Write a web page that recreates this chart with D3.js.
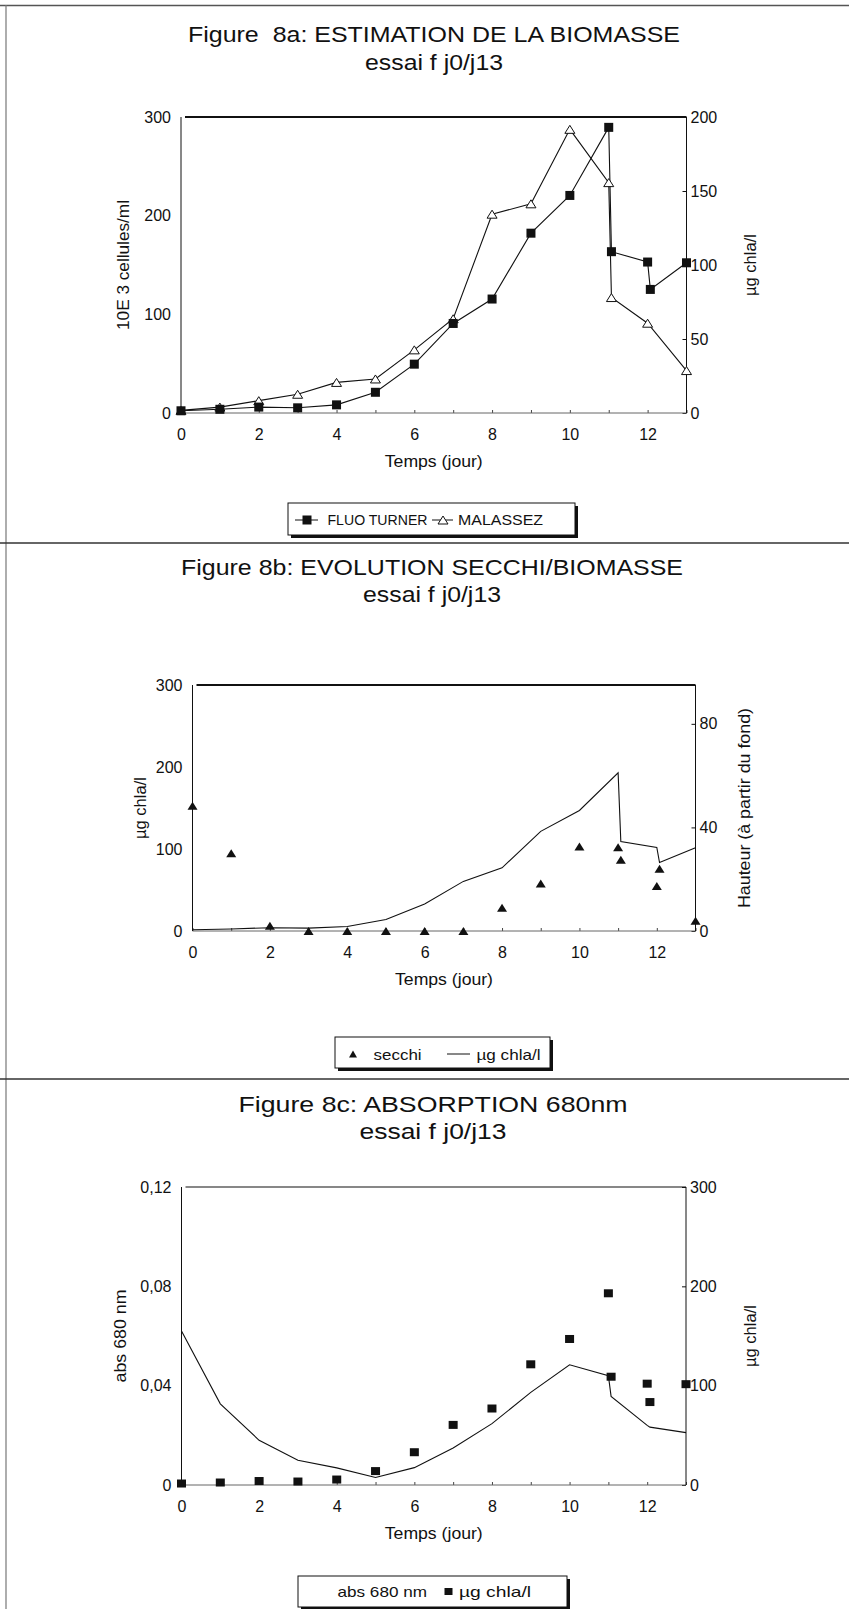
<!DOCTYPE html>
<html><head><meta charset="utf-8">
<script src="https://cdn.jsdelivr.net/npm/d3@7"></script>
<style>
body{margin:0;background:#fff}
svg text{font-family:"Liberation Sans",Arial,Helvetica,sans-serif;fill:#111}
</style>
</head><body>
<svg id="page" width="849" height="1609"></svg>
<script>
// ---------- DATA ----------
const dayTicks = [0,1,2,3,4,5,6,7,8,9,10,11,12,13];
const dayLabels = [0,2,4,6,8,10,12];

// FLUO TURNER / µg chla/l (two readings on days 11 and 12)
const chlaDays = [0,1,2,3,4,5,6,7,8,9,10,11,11.07,12,12.07,13];
const chla     = [1.5,2.5,4,3.5,5.5,14,33,60.5,77,121.5,147,193,109,102,83.5,101.5];

// MALASSEZ, 10E3 cellules/ml
const malDays  = [0,1,2,3,4,5,6,7,8,9,10,11,11.07,12,13];
const malassez = [2.7,6,12.5,19,31,34.5,64,95.5,201.5,212,287.5,233.5,117,91,43];

// secchi, hauteur (à partir du fond)
const secDays  = [0,1,2,3,4,5,6,7,8,9,10,11,11.07,12,12.07,13];
const secchi   = [48.4,30,2,0,0,0,0,0,9,18.3,32.6,32.3,27.5,17.4,24,4];

// absorbance 680 nm
const absDays  = [0,1,2,3,4,5,6,7,8,9,10,11,11.07,12,12.07,13];
const abs680   = [0.062,0.0327,0.018,0.010,0.0069,0.003,0.007,0.0149,0.0247,0.0373,0.0484,0.044,0.0357,0.024,0.0233,0.0211];

const ticksL1 = [0,100,200,300], ticksR1 = [0,50,100,150,200];
const ticksL2 = [0,100,200,300], ticksR2 = [0,40,80];
const ticksL3 = [0,0.04,0.08,0.12], ticksR3 = [0,100,200,300];

// ---------- DRAW ----------
const svg = d3.select("#page");
const FONT = 16;

// page frame (scan borders)
svg.append("line").attr("x1",0).attr("x2",849).attr("y1",5.5).attr("y2",5.5).attr("stroke","#555").attr("stroke-width",1.5);
svg.append("line").attr("x1",6).attr("x2",6).attr("y1",5).attr("y2",1609).attr("stroke","#777").attr("stroke-width",1.2);
[543,1079].forEach(yy=>svg.append("line").attr("x1",0).attr("x2",849).attr("y1",yy).attr("y2",yy).attr("stroke","#333").attr("stroke-width",1.6));

function title(l1, w1, l2, w2, cx, b1, b2){
  svg.append("text").attr("x",cx).attr("y",b1).attr("text-anchor","middle").style("white-space","pre")
    .attr("font-size",22).attr("textLength",w1).attr("lengthAdjust","spacingAndGlyphs").text(l1);
  svg.append("text").attr("x",cx).attr("y",b2).attr("text-anchor","middle")
    .attr("font-size",22).attr("textLength",w2).attr("lengthAdjust","spacingAndGlyphs").text(l2);
}

function frame(g, x, yL, yR, cfg){
  const [x0,x1] = x.range(); const yb = yL.range()[0], yt = yL.range()[1];
  // left axis
  const ax = g.append("g").attr("transform",`translate(${x0},0)`)
    .call(d3.axisLeft(yL).tickValues(cfg.ticksL).tickSize(0).tickPadding(10).tickFormat(cfg.fmtL||(d=>d)));
  ax.select(".domain").remove();
  ax.selectAll("text").attr("font-size",FONT).attr("fill","#111");
  // right axis
  const ar = g.append("g").attr("transform",`translate(${x1},0)`)
    .call(d3.axisRight(yR).tickValues(cfg.ticksR).tickSize(-4).tickPadding(4).tickFormat(d=>d));
  ar.select(".domain").remove();
  ar.selectAll("line").attr("stroke","#111");
  ar.selectAll("text").attr("font-size",FONT).attr("fill","#111");
  // bottom axis
  const ab = g.append("g").attr("transform",`translate(0,${yb})`)
    .call(d3.axisBottom(x).tickValues(dayTicks).tickSize(-3).tickPadding(16).tickFormat(d=>dayLabels.includes(d)?d:""));
  ab.select(".domain").remove();
  ab.selectAll("line").attr("stroke","#444");
  ab.selectAll("text").attr("font-size",FONT).attr("fill","#111");
  g.append("line").attr("x1",x0).attr("x2",x1).attr("y1",yb).attr("y2",yb).attr("stroke","#666").attr("stroke-width",1);
  // plot borders
  g.append("line").attr("x1",x0).attr("x2",x0).attr("y1",yt).attr("y2",yb).attr("stroke","#111").attr("stroke-width",1);
  g.append("line").attr("x1",x1).attr("x2",x1).attr("y1",yt).attr("y2",yb).attr("stroke","#111").attr("stroke-width",1);
  g.append("line").attr("x1",x0+4).attr("x2",x1).attr("y1",yt).attr("y2",yt).attr("stroke","#111").attr("stroke-width",cfg.topW||2);
  // axis titles
  const mid = (yt+yb)/2;
  g.append("text").attr("transform",`translate(${cfg.lx},${mid}) rotate(-90)`).attr("text-anchor","middle")
    .attr("dy","0.35em").attr("font-size",17).attr("textLength",cfg.lw).attr("lengthAdjust","spacingAndGlyphs").text(cfg.lt);
  g.append("text").attr("transform",`translate(${cfg.rx},${mid}) rotate(-90)`).attr("text-anchor","middle")
    .attr("dy","0.35em").attr("font-size",17).attr("textLength",cfg.rw).attr("lengthAdjust","spacingAndGlyphs").text(cfg.rt);
  g.append("text").attr("x",(x0+x1)/2).attr("y",yb+54).attr("text-anchor","middle")
    .attr("font-size",17).attr("textLength",98).attr("lengthAdjust","spacingAndGlyphs").text("Temps (jour)");
}

function tri(w,h){ return `M0,${-h/2}L${w/2},${h/2}L${-w/2},${h/2}Z`; }
function legendBox(g,x0,y0,x1,y1){
  g.append("rect").attr("x",x0+3).attr("y",y0+3).attr("width",x1-x0).attr("height",y1-y0).attr("fill","#111");
  g.append("rect").attr("x",x0).attr("y",y0).attr("width",x1-x0).attr("height",y1-y0).attr("fill","#fff").attr("stroke","#111").attr("stroke-width",1);
}
function ltext(g,x,y,w,t){
  g.append("text").attr("x",x).attr("y",y).attr("font-size",15).attr("textLength",w).attr("lengthAdjust","spacingAndGlyphs").text(t);
}

// ===== Figure 8a =====
{
  title("Figure  8a: ESTIMATION DE LA BIOMASSE", 492, "essai f j0/j13", 138, 434, 42, 70);
  const g = svg.append("g");
  const x = d3.scaleLinear().domain([0,13]).range([181,686.5]);
  const yL = d3.scaleLinear().domain([0,300]).range([413,117]);
  const yR = d3.scaleLinear().domain([0,200]).range([413,117]);
  frame(g,x,yL,yR,{ticksL:ticksL1,ticksR:ticksR1,lx:123,lt:"10E 3 cellules/ml",lw:130,rx:750,rt:"µg chla/l",rw:62});
  const fluo = chlaDays.map((d,i)=>[d,chla[i]]);
  const mal = malDays.map((d,i)=>[d,malassez[i]]);
  g.append("path").attr("d",d3.line().x(d=>x(d[0])).y(d=>yL(d[1]))(mal)).attr("fill","none").attr("stroke","#111").attr("stroke-width",1.1);
  g.append("path").attr("d",d3.line().x(d=>x(d[0])).y(d=>yR(d[1]))(fluo)).attr("fill","none").attr("stroke","#111").attr("stroke-width",1.1);
  g.selectAll(".tri").data(mal).join("path").attr("d",tri(10,8))
    .attr("transform",d=>`translate(${x(d[0])},${yL(d[1])})`).attr("fill","#fff").attr("stroke","#111").attr("stroke-width",1);
  g.selectAll(".sq").data(fluo).join("rect").attr("x",d=>x(d[0])-4.5).attr("y",d=>yR(d[1])-4.5)
    .attr("width",9).attr("height",9).attr("fill","#111");
  // legend
  legendBox(g,288,503,575,535);
  g.append("line").attr("x1",295).attr("x2",318).attr("y1",520).attr("y2",520).attr("stroke","#111");
  g.append("rect").attr("x",302.5).attr("y",515.5).attr("width",9).attr("height",9).attr("fill","#111");
  ltext(g,327.5,525,100,"FLUO TURNER");
  g.append("line").attr("x1",432).attr("x2",453).attr("y1",520).attr("y2",520).attr("stroke","#111");
  g.append("path").attr("d",tri(10,8)).attr("transform","translate(443,520)").attr("fill","#fff").attr("stroke","#111");
  ltext(g,458,525,85,"MALASSEZ");
}

// ===== Figure 8b =====
{
  title("Figure 8b: EVOLUTION SECCHI/BIOMASSE", 502, "essai f j0/j13", 138, 432, 575, 602);
  const g = svg.append("g");
  const x = d3.scaleLinear().domain([0,13]).range([192.5,695.5]);
  const yL = d3.scaleLinear().domain([0,300]).range([931,685]);
  const yR = d3.scaleLinear().domain([0,95]).range([931,685]);
  frame(g,x,yL,yR,{ticksL:ticksL2,ticksR:ticksR2,lx:140,lt:"µg chla/l",lw:62,rx:744,rt:"Hauteur (à partir du fond)",rw:200});
  const line = chlaDays.map((d,i)=>[d,chla[i]]);
  const sec = secDays.map((d,i)=>[d,secchi[i]]);
  g.append("path").attr("d",d3.line().x(d=>x(d[0])).y(d=>yL(d[1]))(line)).attr("fill","none").attr("stroke","#111").attr("stroke-width",1.1);
  g.selectAll(".st").data(sec).join("path").attr("d",tri(10,8))
    .attr("transform",d=>`translate(${x(d[0])},${yR(d[1])})`).attr("fill","#111");
  legendBox(g,335,1037,550,1068);
  g.append("path").attr("d",tri(8,7)).attr("transform","translate(353,1054)").attr("fill","#111");
  ltext(g,373.6,1059.5,48,"secchi");
  g.append("line").attr("x1",447).attr("x2",470).attr("y1",1054).attr("y2",1054).attr("stroke","#111");
  ltext(g,476.5,1059.5,64,"µg chla/l");
}

// ===== Figure 8c =====
{
  title("Figure 8c: ABSORPTION 680nm", 389, "essai f j0/j13", 147, 433, 1112, 1139);
  const g = svg.append("g");
  const x = d3.scaleLinear().domain([0,13]).range([181.5,686]);
  const yL = d3.scaleLinear().domain([0,0.12]).range([1485,1187]);
  const yR = d3.scaleLinear().domain([0,300]).range([1485,1187]);
  frame(g,x,yL,yR,{ticksL:ticksL3,ticksR:ticksR3,fmtL:d=>d===0?"0":d.toFixed(2).replace(".",","),
    lx:120,lt:"abs 680 nm",lw:93,rx:750,rt:"µg chla/l",rw:62,topW:1.2});
  const ab = absDays.map((d,i)=>[d,abs680[i]]);
  const sq = chlaDays.map((d,i)=>[d,chla[i]]);
  g.append("path").attr("d",d3.line().x(d=>x(d[0])).y(d=>yL(d[1]))(ab)).attr("fill","none").attr("stroke","#111").attr("stroke-width",1.1);
  g.selectAll(".sq3").data(sq).join("rect").attr("x",d=>x(d[0])-4.5).attr("y",d=>yR(d[1])-4)
    .attr("width",9).attr("height",8).attr("fill","#111");
  legendBox(g,298,1576,567,1607);
  ltext(g,337.5,1597,89.5,"abs 680 nm");
  g.append("rect").attr("x",444.5).attr("y",1588).attr("width",8).attr("height",7).attr("fill","#111");
  ltext(g,459,1597,72,"µg chla/l");
}
</script>
</body></html>
